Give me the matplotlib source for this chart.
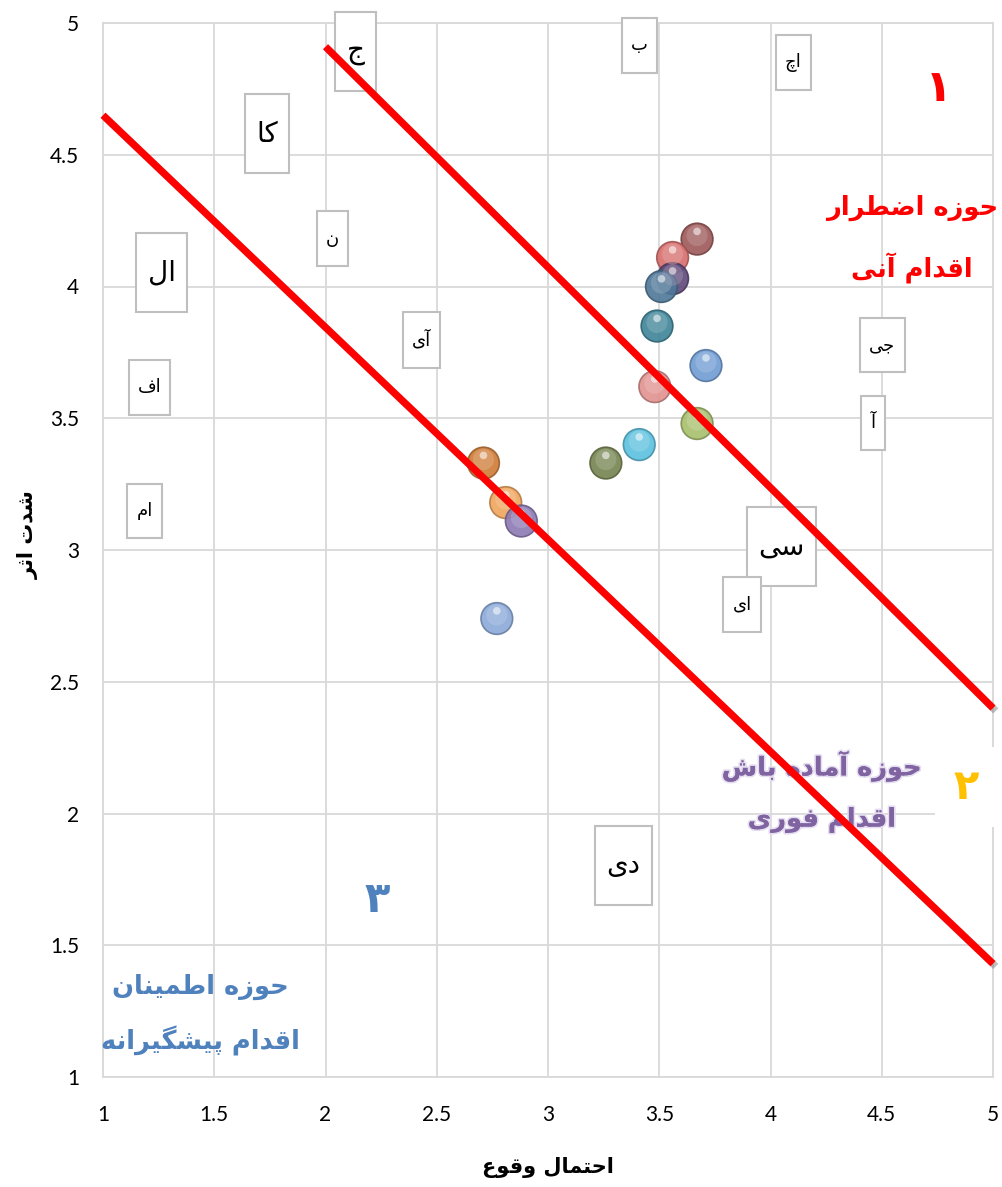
import matplotlib
matplotlib.use('Agg')
import matplotlib.pyplot as plt
import matplotlib.patheffects as pe
from matplotlib.path import Path
from matplotlib.transforms import offset_copy
import matplotlib.colors as mcolors
import numpy as np

# ---------------- data ----------------
prob = [3.67, 3.56, 3.56, 3.51, 3.49, 3.71, 3.48, 3.67, 3.41, 3.26, 2.71, 2.81, 2.88, 2.77]
impact = [4.18, 4.11, 4.03, 4.00, 3.85, 3.70, 3.62, 3.48, 3.40, 3.33, 3.33, 3.18, 3.11, 2.74]
bubble_colors = ['#9c5858', '#d66e6c', '#5e4a7a', '#4e7899', '#3e8498', '#6f9bd2', '#e0918f',
                 '#a6bf6c', '#5bc0de', '#758450', '#cf7b36', '#f0a45c', '#8c79b3', '#8aa9d9']

label_texts = ['ج', 'کا', 'ن', 'ال', 'آی', 'اف', 'ام', 'ب', 'اچ', 'جی', 'آ', 'سی', 'ای', 'دی']
label_x = [2.135, 1.739, 2.031, 1.263, 2.431, 1.209, 1.187, 3.411, 4.103, 4.503, 4.461, 4.049, 3.872, 3.339]
label_y = [4.892, 4.579, 4.182, 4.053, 3.797, 3.617, 3.148, 4.915, 4.850, 3.778, 3.482, 3.013, 2.793, 1.803]
label_big = [True, True, False, True, False, False, False, False, False, False, False, True, False, True]

line1_x = [2.0, 5.0]
line1_y = [4.91, 2.40]
line2_x = [1.0, 5.0]
line2_y = [4.65, 1.43]

ticks = [1, 1.5, 2, 2.5, 3, 3.5, 4, 4.5, 5]
tick_labels = ['1', '1.5', '2', '2.5', '3', '3.5', '4', '4.5', '5']

xlabel = 'احتمال وقوع'
ylabel = 'شدت اثر'
zone1_num, zone1_text = '۱', 'حوزه اضطرار\nاقدام آنی'
zone2_num, zone2_text = '۲', 'حوزه آماده باش\nاقدام فوری'
zone3_num, zone3_text = '۳', 'حوزه اطمینان\nاقدام پیشگیرانه'

# ---------------- minimal Persian shaping ----------------
FORMS = {
    '\u0622': ('\uFE81', '\uFE82', None, None),
    '\u0627': ('\uFE8D', '\uFE8E', None, None),
    '\u0628': ('\uFE8F', '\uFE90', '\uFE91', '\uFE92'),
    '\u067E': ('\uFB56', '\uFB57', '\uFB58', '\uFB59'),
    '\u062A': ('\uFE95', '\uFE96', '\uFE97', '\uFE98'),
    '\u062B': ('\uFE99', '\uFE9A', '\uFE9B', '\uFE9C'),
    '\u062C': ('\uFE9D', '\uFE9E', '\uFE9F', '\uFEA0'),
    '\u0686': ('\uFB7A', '\uFB7B', '\uFB7C', '\uFB7D'),
    '\u062D': ('\uFEA1', '\uFEA2', '\uFEA3', '\uFEA4'),
    '\u062F': ('\uFEA9', '\uFEAA', None, None),
    '\u0631': ('\uFEAD', '\uFEAE', None, None),
    '\u0632': ('\uFEAF', '\uFEB0', None, None),
    '\u0633': ('\uFEB1', '\uFEB2', '\uFEB3', '\uFEB4'),
    '\u0634': ('\uFEB5', '\uFEB6', '\uFEB7', '\uFEB8'),
    '\u0636': ('\uFEBD', '\uFEBE', '\uFEBF', '\uFEC0'),
    '\u0637': ('\uFEC1', '\uFEC2', '\uFEC3', '\uFEC4'),
    '\u0639': ('\uFEC9', '\uFECA', '\uFECB', '\uFECC'),
    '\u0641': ('\uFED1', '\uFED2', '\uFED3', '\uFED4'),
    '\u0642': ('\uFED5', '\uFED6', '\uFED7', '\uFED8'),
    '\u06A9': ('\uFB8E', '\uFB8F', '\uFB90', '\uFB91'),
    '\u06AF': ('\uFB92', '\uFB93', '\uFB94', '\uFB95'),
    '\u0644': ('\uFEDD', '\uFEDE', '\uFEDF', '\uFEE0'),
    '\u0645': ('\uFEE1', '\uFEE2', '\uFEE3', '\uFEE4'),
    '\u0646': ('\uFEE5', '\uFEE6', '\uFEE7', '\uFEE8'),
    '\u0647': ('\uFEE9', '\uFEEA', '\uFEEB', '\uFEEC'),
    '\u0648': ('\uFEED', '\uFEEE', None, None),
    '\u06CC': ('\uFBFC', '\uFBFD', '\uFBFE', '\uFBFF'),
}


def _dual(c):
    return c in FORMS and FORMS[c][2] is not None


def shape_line(s):
    out = []
    n = len(s)
    for i, c in enumerate(s):
        if c not in FORMS:
            out.append(c)
            continue
        prev_c = s[i - 1] if i > 0 else ''
        next_c = s[i + 1] if i < n - 1 else ''
        jp = _dual(prev_c)
        jn = _dual(c) and (next_c in FORMS)
        f = FORMS[c]
        if jp and jn:
            g = f[3]
        elif jp:
            g = f[1]
        elif jn:
            g = f[2]
        else:
            g = f[0]
        out.append(g)
    return ''.join(out)[::-1]


def fa(s):
    return '\n'.join(shape_line(l) for l in s.split('\n'))


# custom box with separate horizontal / vertical padding
class TallBox:
    def __init__(self, padx, pady):
        self.padx = padx
        self.pady = pady

    def __call__(self, x0, y0, width, height, mutation_size):
        px = self.padx * mutation_size
        py = self.pady * mutation_size
        x0, y0 = x0 - px, y0 - py
        x1, y1 = x0 + width + 2 * px, y0 + height + 2 * py
        return Path([(x0, y0), (x1, y0), (x1, y1), (x0, y1), (x0, y0)], closed=True)


# ---------------- figure ----------------
plt.rcParams['font.family'] = ['DejaVu Sans']
fig = plt.figure(figsize=(10.02, 11.87), dpi=100)
ax = fig.add_axes([103 / 1002, 1 - 1077 / 1187, 890 / 1002, 1054 / 1187])
ax.set_xlim(1, 5)
ax.set_ylim(1, 5)
ax.set_xticks(ticks)
ax.set_yticks(ticks)
ax.set_xticklabels(tick_labels, fontfamily='Lato', fontsize=15)
ax.set_yticklabels(tick_labels, fontfamily='Lato', fontsize=15)
ax.tick_params(length=0)
ax.tick_params(axis='x', pad=20)
ax.tick_params(axis='y', pad=17)
ax.grid(True, color='#d9d9d9', linewidth=1.3)
ax.set_axisbelow(True)
for sp in ax.spines.values():
    sp.set_color('#d9d9d9')
    sp.set_linewidth(1.3)

# labels in boxes
for t, x, y, big in zip(label_texts, label_x, label_y, label_big):
    fs = 20 if big else 13
    box = TallBox(0.4, 0.92) if big else TallBox(0.5, 1.02)
    ax.text(x, y, fa(t), fontsize=fs, ha='center', va='center', color='black', zorder=3,
            bbox=dict(boxstyle=box, facecolor='white', edgecolor='#bfbfbf', linewidth=1.5))

# bubbles (3D-looking spheres)
dark = [mcolors.to_hex(np.array(mcolors.to_rgb(c)) * 0.75) for c in bubble_colors]
mid = [mcolors.to_hex(np.array(mcolors.to_rgb(c)) * 0.6 + 0.4) for c in bubble_colors]
ax.scatter(prob, impact, s=520, c=bubble_colors, edgecolors=dark, linewidths=1.2, alpha=0.9, zorder=4)
tr1 = offset_copy(ax.transData, fig=fig, x=0, y=2.5, units='points')
ax.scatter(prob, impact, s=230, c=mid, edgecolors='none', alpha=0.45, zorder=4, transform=tr1)
tr2 = offset_copy(ax.transData, fig=fig, x=0, y=5.5, units='points')
ax.scatter(prob, impact, s=30, c='white', edgecolors='none', alpha=0.55, zorder=4, transform=tr2)

# red zone lines
shadow = [pe.SimpleLineShadow(offset=(2, -2), shadow_color='#808080', alpha=0.5), pe.Normal()]
ax.plot(line1_x, line1_y, color='#ff0000', linewidth=5.2, solid_capstyle='butt', zorder=6,
        path_effects=shadow, clip_on=False)
ax.plot(line2_x, line2_y, color='#ff0000', linewidth=5.2, solid_capstyle='butt', zorder=6,
        path_effects=shadow, clip_on=False)

# zone annotations
ax.text(4.753, 4.75, zone1_num, fontsize=32, fontweight='bold', color='#ff0000', ha='center',
        va='center', zorder=5, bbox=dict(boxstyle='square,pad=0.3', facecolor='white', edgecolor='none'))
ax.text(4.636, 4.18, fa(zone1_text), fontsize=18.5, fontweight='bold', color='#ff0000', ha='center',
        va='center', linespacing=2.3, zorder=5)

ax.text(4.879, 2.10, zone2_num, fontsize=30, fontweight='bold', color='#ffc000', ha='center',
        va='center', zorder=5, bbox=dict(boxstyle='square,pad=0.45', facecolor='white', edgecolor='none'),
        clip_on=False)
ax.text(4.231, 2.082, fa(zone2_text), fontsize=18.5, fontweight='bold', color='#8064a2', ha='center',
        va='center', linespacing=2.25, zorder=5,
        path_effects=[pe.withStroke(linewidth=2.5, foreground='#e4dcef'), pe.Normal()])

ax.text(2.231, 1.672, zone3_num, fontsize=30, fontweight='bold', color='#4f81bd', ha='center',
        va='center', zorder=5, bbox=dict(boxstyle='square,pad=0.2', facecolor='white', edgecolor='none'))
ax.text(1.436, 1.235, fa(zone3_text), fontsize=18.5, fontweight='bold', color='#4f81bd', ha='center',
        va='center', linespacing=2.1, zorder=5)

# axis titles
fig.text(548 / 1002, 1 - 1168 / 1187, fa(xlabel), fontsize=15, fontweight='bold', ha='center', va='center')
fig.text(28 / 1002, 1 - 535 / 1187, fa(ylabel), fontsize=15, fontweight='bold', ha='center', va='center',
         rotation=90)

fig.savefig('out.png', dpi=100)
